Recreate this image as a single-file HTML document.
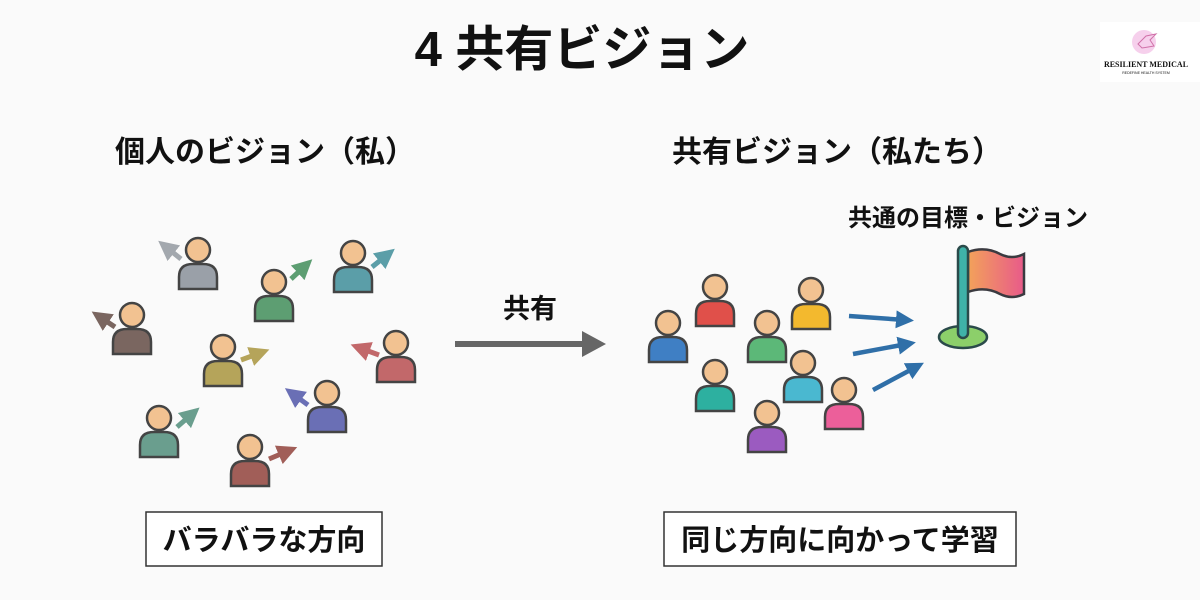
<!DOCTYPE html>
<html><head><meta charset="utf-8"><style>
html,body{margin:0;padding:0;background:#fafafa;}
svg{display:block}
text{font-family:"Liberation Sans","Noto Sans CJK JP",sans-serif;font-weight:bold;fill:#111}
</style></head><body>
<svg width="1200" height="600" viewBox="0 0 1200 600" xmlns="http://www.w3.org/2000/svg">
<defs>
<g id="p">
 <path d="M-19,39 L-19,27 Q-19,14 -5,14 L5,14 Q19,14 19,27 L19,39 Z" stroke="#444" stroke-width="2.5"/>
 <circle cx="0" cy="0" r="12" fill="#f2c291" stroke="#444" stroke-width="2.5"/>
</g>
<linearGradient id="fg" x1="0" x2="1"><stop offset="0" stop-color="#f3a25a"/><stop offset="1" stop-color="#e85a8a"/></linearGradient>
<marker id="ah" markerWidth="4" markerHeight="4" refX="2" refY="2" orient="auto" markerUnits="strokeWidth"><path d="M0,0 L4,2 L0,4 Z" fill="context-stroke"/></marker>
</defs>
<text x="582" y="66" font-size="49" text-anchor="middle">4 共有ビジョン</text>
<text x="115" y="162" font-size="30">個人のビジョン（私）</text>
<text x="672" y="162" font-size="30">共有ビジョン（私たち）</text>
<text x="848" y="226" font-size="24">共通の目標・ビジョン</text>
<!-- left people -->
<g fill="#9aa0a8"><use href="#p" x="198" y="250"/></g>
<g fill="#5d9e72"><use href="#p" x="274" y="282"/></g>
<g fill="#5b9ea8"><use href="#p" x="353" y="253"/></g>
<g fill="#7a6660"><use href="#p" x="132" y="315"/></g>
<g fill="#b5a45a"><use href="#p" x="223" y="347"/></g>
<g fill="#c2686a"><use href="#p" x="396" y="343"/></g>
<g fill="#6a6fb5"><use href="#p" x="327" y="393"/></g>
<g fill="#6a9e8e"><use href="#p" x="159" y="418"/></g>
<g fill="#a15e58"><use href="#p" x="250" y="447"/></g>
<g stroke-width="5" fill="none">
 <line x1="181" y1="259" x2="166" y2="247" stroke="#a3a8ae" marker-end="url(#ah)"/>
 <line x1="291" y1="279" x2="305" y2="266" stroke="#5d9e72" marker-end="url(#ah)"/>
 <line x1="372" y1="267" x2="387" y2="255" stroke="#5b9ea8" marker-end="url(#ah)"/>
 <line x1="115" y1="327" x2="100" y2="317" stroke="#7a6660" marker-end="url(#ah)"/>
 <line x1="241" y1="360" x2="260" y2="353" stroke="#b5a45a" marker-end="url(#ah)"/>
 <line x1="379" y1="355" x2="360" y2="348" stroke="#c2686a" marker-end="url(#ah)"/>
 <line x1="308" y1="405" x2="293" y2="394" stroke="#6a6fb5" marker-end="url(#ah)"/>
 <line x1="177" y1="427" x2="192" y2="414" stroke="#6a9e8e" marker-end="url(#ah)"/>
 <line x1="269" y1="459" x2="288" y2="451" stroke="#a15e58" marker-end="url(#ah)"/>
</g>
<!-- middle -->
<text x="530" y="318" font-size="27" text-anchor="middle">共有</text>
<line x1="455" y1="344" x2="585" y2="344" stroke="#666" stroke-width="6"/>
<path d="M582,331 L606,344 L582,357 Z" fill="#666"/>
<!-- right people -->
<g fill="#e0504a"><use href="#p" x="715" y="287"/></g>
<g fill="#f3b92e"><use href="#p" x="811" y="290"/></g>
<g fill="#3f7fc4"><use href="#p" x="668" y="323"/></g>
<g fill="#5cb878"><use href="#p" x="767" y="323"/></g>
<g fill="#2db0a0"><use href="#p" x="715" y="372"/></g>
<g fill="#4ab8d0"><use href="#p" x="803" y="363"/></g>
<g fill="#ec5f9a"><use href="#p" x="844" y="390"/></g>
<g fill="#9b5bc0"><use href="#p" x="767" y="413"/></g>
<g stroke="#2f6fa8" stroke-width="4.5" fill="none">
 <line x1="849" y1="316" x2="905" y2="320" marker-end="url(#ah)"/>
 <line x1="853" y1="354" x2="907" y2="344" marker-end="url(#ah)"/>
 <line x1="873" y1="390" x2="916" y2="367" marker-end="url(#ah)"/>
</g>
<!-- flag -->
<ellipse cx="963" cy="337" rx="24" ry="11" fill="#8ccf6a" stroke="#2a4a4a" stroke-width="2.5"/>
<path d="M968,252 Q985,246 1000,254 Q1012,260 1024,254 L1024,294 Q1012,300 1000,294 Q985,286 968,292 Z" fill="url(#fg)" stroke="#3a3a40" stroke-width="2.5"/>
<rect x="958" y="246" width="10" height="92" rx="5" fill="#3fb2a8" stroke="#2a4a4a" stroke-width="2.5"/>
<!-- boxes -->
<rect x="146" y="512" width="236" height="54" fill="#fff" stroke="#333" stroke-width="1.5"/>
<text x="264" y="550" font-size="29" text-anchor="middle">バラバラな方向</text>
<rect x="664" y="512" width="352" height="54" fill="#fff" stroke="#333" stroke-width="1.5"/>
<text x="840" y="550" font-size="29" text-anchor="middle">同じ方向に向かって学習</text>
<!-- logo -->
<rect x="1100" y="22" width="100" height="60" fill="#fff"/>
<circle cx="1144" cy="42" r="12" fill="#f6d0ec"/>
<path d="M1138,44 L1146,36 L1156,34 L1150,40 L1154,46 L1142,48 Z" fill="none" stroke="#d070a8" stroke-width="1"/>
<text x="1146" y="67" font-size="8" text-anchor="middle" style="font-family:'Liberation Serif',serif">RESILIENT MEDICAL</text>
<text x="1146" y="74" font-size="3.5" text-anchor="middle" fill="#666" style="font-weight:normal">REDEFINE HEALTH SYSTEM</text>
</svg>
</body></html>
